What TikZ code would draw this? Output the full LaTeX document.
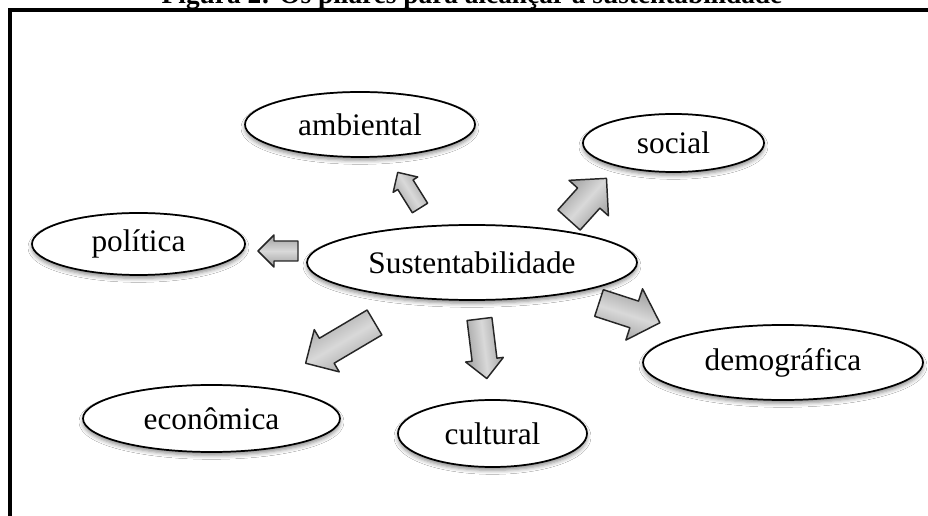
\documentclass[tikz,border=0pt]{standalone}
\usepackage{fontspec}
\setmainfont{Liberation Serif}
\usetikzlibrary{shapes.geometric,shadows.blur}
\tikzset{
  pillar/.style={ellipse, draw=black, line width=1.3pt, fill=white, inner sep=0pt,
    font=\fontsize{23.5}{28}\selectfont,
    blur shadow={shadow xshift=0pt, shadow yshift=-2.5pt, shadow blur radius=3pt, shadow opacity=45}},
  blockarrow/.style={draw=black!85, line width=1.1pt, line join=round,
    top color=gray!75, bottom color=gray!75, middle color=gray!30},
  frameline/.style={line width=3pt, line cap=rect}
}
% x, y, angle, length, shaft width, head width
\newcommand\blockarr[6]{%
  \path[blockarrow, shading angle=#3, shift={(#1,#2)}, rotate=#3]
    (0,{-#5/2}) -- ({#4-#6/2},{-#5/2}) -- ({#4-#6/2},{-#6/2}) -- (#4,0)
    -- ({#4-#6/2},{#6/2}) -- ({#4-#6/2},{#5/2}) -- (0,{#5/2}) -- cycle;}
\begin{document}
\begin{tikzpicture}[x=0.75pt,y=-0.75pt]
\useasboundingbox (0,0) rectangle (928,516);
\fill[white] (0,0) rectangle (928,516);
% title (cut off at the top)
\node[font=\bfseries\fontsize{20.5}{24}\selectfont, anchor=base, inner sep=0pt] (title) at (472,3.5)
  {Figura 2: Os pilares para alcançar a sustentabilidade};
% frame
\coordinate (fbl) at (10,520);
\coordinate (ftl) at (10,10);
\coordinate (ftr) at (932,10);
\draw[frameline] (fbl) -- (ftl) -- (ftr);
% nodes
\node[pillar, minimum width=172.5pt, minimum height=48.75pt] (amb) at (360,124.5) {ambiental};
\node[pillar, minimum width=135.75pt, minimum height=43.5pt] (soc) at (673.5,143) {social};
\node[pillar, minimum width=159.75pt, minimum height=46.5pt] (pol) at (138.5,244) {política};
\node[pillar, minimum width=247.5pt, minimum height=56.25pt] (sus) at (472,262.5) {Sustentabilidade};
\node[pillar, minimum width=210pt, minimum height=56.25pt] (dem) at (783,362.5) {demográfica};
\node[pillar, minimum width=192.75pt, minimum height=50.25pt] (eco) at (211.5,418.5) {econômica};
\node[pillar, minimum width=141.75pt, minimum height=50.25pt] (cul) at (492.5,433.5) {cultural};
% block arrows
\blockarr{420}{208}{122}{42}{18}{29}
\blockarr{298}{251}{180}{40}{20}{32}
\blockarr{569}{220}{48}{56}{30}{53}
\blockarr{599}{303}{-18}{64}{28}{54}
\blockarr{374.5}{322.5}{210.6}{80}{29}{49}
\blockarr{479.5}{319}{-83}{60}{25}{38}
\end{tikzpicture}
\end{document}
